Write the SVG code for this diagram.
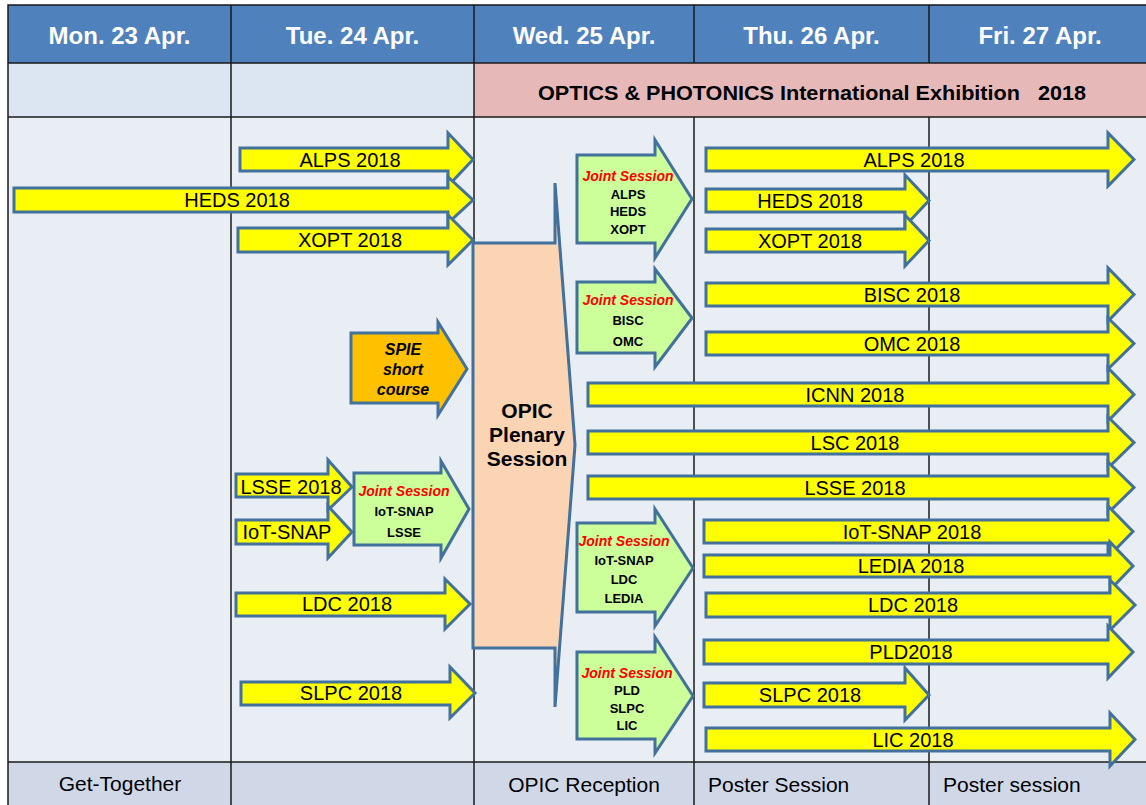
<svg xmlns="http://www.w3.org/2000/svg" width="1146" height="805" viewBox="0 0 1146 805">
<style>
.hdr{fill:#4F81BD}
.hdrt{font-family:"Liberation Sans",Arial,sans-serif;font-weight:bold;font-size:24px;fill:#FFFFFF;text-anchor:middle}
.grid{stroke:#1a1a1a;stroke-width:1.5;fill:none}
.ya{fill:#FFFF00;stroke:#41719C;stroke-width:3;stroke-linejoin:miter}
.ga{fill:#CCFF99;stroke:#41719C;stroke-width:3}
.oa{fill:#FFC000;stroke:#41719C;stroke-width:3}
.pl{fill:#FBD4B4;stroke:#41719C;stroke-width:3}
.t{font-family:"Liberation Sans",Arial,sans-serif;font-size:20px;fill:#000;text-anchor:middle}
.js{font-family:"Liberation Sans",Arial,sans-serif;font-size:14px;font-weight:bold;font-style:italic;fill:#FF0000;text-anchor:middle}
.jn{font-family:"Liberation Sans",Arial,sans-serif;font-size:13px;font-weight:bold;fill:#000;text-anchor:middle}
.bt{font-family:"Liberation Sans",Arial,sans-serif;font-size:21px;fill:#000}
</style>
<rect x="0" y="0" width="1146" height="805" fill="#FFFFFF"/>
<g id="header">
<rect class="hdr" x="8" y="5" width="1138" height="58"/>
<text class="hdrt" x="119.5" y="44">Mon. 23 Apr.</text>
<text class="hdrt" x="352.5" y="44">Tue. 24 Apr.</text>
<text class="hdrt" x="584" y="44">Wed. 25 Apr.</text>
<text class="hdrt" x="811.5" y="44">Thu. 26 Apr.</text>
<text class="hdrt" x="1040" y="44">Fri. 27 Apr.</text>
</g>
<g id="row2">
<rect x="8" y="63" width="466" height="54" fill="#DCE6F2"/>
<rect x="474" y="63" width="672" height="54" fill="#E6B9B8"/>
<text x="812" y="100" font-family="Liberation Sans, Arial, sans-serif" font-weight="bold" font-size="20" text-anchor="middle" textLength="548" lengthAdjust="spacingAndGlyphs">OPTICS &amp; PHOTONICS International Exhibition&#160;&#160;&#160;2018</text>
</g>
<g id="body">
<rect x="8" y="117" width="1138" height="645" fill="#E9EDF4"/>
<rect x="8" y="762" width="1138" height="43" fill="#D0D8E8"/>
</g>
<g id="gridlines">
<rect class="grid" x="8" y="5" width="1140" height="810" stroke="#888"/>
<line class="grid" x1="8" y1="63" x2="1146" y2="63"/>
<line class="grid" x1="8" y1="117" x2="1146" y2="117"/>
<line class="grid" x1="8" y1="762" x2="1146" y2="762"/>
<line class="grid" x1="231" y1="5" x2="231" y2="805"/>
<line class="grid" x1="474" y1="5" x2="474" y2="805"/>
<line class="grid" x1="694" y1="5" x2="694" y2="63"/>
<line class="grid" x1="694" y1="117" x2="694" y2="805"/>
<line class="grid" x1="929" y1="5" x2="929" y2="63"/>
<line class="grid" x1="929" y1="117" x2="929" y2="805"/>
</g>
<g id="bottom-labels">
<text class="bt" x="120" y="791" text-anchor="middle">Get-Together</text>
<text class="bt" x="584" y="792" text-anchor="middle">OPIC Reception</text>
<text class="bt" x="708" y="792">Poster Session</text>
<text class="bt" x="943" y="792">Poster session</text>
</g>
<g id="connectors"></g>
<g id="tue-alps"><path class="ya" d="M240,148 H448 V133 L473,159.5 L448,186 V171 H240 Z"/><text class="t" x="350" y="166.5">ALPS 2018</text></g>
<g id="heds"><path class="ya" d="M14,188 H448 V177 L473,200 L448,223 V212 H14 Z"/><text class="t" x="237" y="207">HEDS 2018</text></g>
<g id="tue-xopt"><path class="ya" d="M238,228 H448 V215 L473,240 L448,265 V252 H238 Z"/><text class="t" x="350" y="247">XOPT 2018</text></g>
<g id="spie"><path class="oa" d="M351,333 H438 V322 L467,369 L438,415 V403 H351 Z"/>
<text font-family="Liberation Sans, Arial, sans-serif" font-size="16" font-weight="bold" font-style="italic" text-anchor="middle"><tspan x="403" y="355">SPIE</tspan><tspan x="403" y="375">short</tspan><tspan x="403" y="395">course</tspan></text></g>
<g id="tue-lsse"><path class="ya" d="M236,474 H328 V460 L352,487 L328,510 V497 H236 Z"/><text class="t" x="291" y="494">LSSE 2018</text></g>
<g id="tue-iot"><path class="ya" d="M236,520 H328 V506 L352,532 L328,558 V544 H236 Z"/><text class="t" x="287" y="539">IoT-SNAP</text></g>
<g id="js-tue"><path class="ga" d="M354,473 H441 V461 L469,509 L441,558 V545 H354 Z"/>
<text class="js" x="404" y="496">Joint Session</text><text class="jn" x="404" y="516">IoT-SNAP</text><text class="jn" x="404" y="537">LSSE</text></g>
<g id="tue-ldc"><path class="ya" d="M236,593 H445 V579 L470,604 L445,629 V616 H236 Z"/><text class="t" x="347" y="611">LDC 2018</text></g>
<g id="tue-slpc"><path class="ya" d="M241,682 H450 V667 L475,693 L450,718 V705 H241 Z"/><text class="t" x="351" y="700">SLPC 2018</text></g>
<g id="plenary"><path class="pl" d="M473,243 H555 V183 L575,445 L555,707 V648 H473 Z"/>
<text font-family="Liberation Sans, Arial, sans-serif" font-size="21" font-weight="bold" text-anchor="middle"><tspan x="527" y="418">OPIC</tspan><tspan x="527" y="442">Plenary</tspan><tspan x="527" y="466">Session</tspan></text></g>
<g id="js1"><path class="ga" d="M577,155 H655 V140 L692,199 L655,258 V243 H577 Z"/>
<text class="js" x="628" y="181">Joint Session</text><text class="jn" x="628" y="199">ALPS</text><text class="jn" x="628" y="216">HEDS</text><text class="jn" x="628" y="234">XOPT</text></g>
<g id="js2"><path class="ga" d="M577,282 H655 V269 L692,318 L655,367 V353 H577 Z"/>
<text class="js" x="628" y="305">Joint Session</text><text class="jn" x="628" y="325">BISC</text><text class="jn" x="628" y="346">OMC</text></g>
<g id="js3"><path class="ga" d="M577,523 H655 V509 L693,568 L655,626 V612 H577 Z"/>
<text class="js" x="624" y="546">Joint Session</text><text class="jn" x="624" y="565">IoT-SNAP</text><text class="jn" x="624" y="584">LDC</text><text class="jn" x="624" y="603">LEDIA</text></g>
<g id="js4"><path class="ga" d="M577,652 H655 V637 L693,696 L655,753 V739 H577 Z"/>
<text class="js" x="627" y="678">Joint Session</text><text class="jn" x="627" y="695">PLD</text><text class="jn" x="627" y="713">SLPC</text><text class="jn" x="627" y="730">LIC</text></g>
<g id="alps"><path class="ya" d="M706,148 H1108 V133 L1134,159.5 L1108,186 V171 H706 Z"/><text class="t" x="914" y="166.5">ALPS 2018</text></g>
<g id="heds2"><path class="ya" d="M706,189 H905 V175 L929,200.5 L905,226 V212 H706 Z"/><text class="t" x="810" y="207.5">HEDS 2018</text></g>
<g id="xopt"><path class="ya" d="M706,229 H905 V215 L929,240.5 L905,266 V252 H706 Z"/><text class="t" x="810" y="247.5">XOPT 2018</text></g>
<g id="bisc"><path class="ya" d="M706,283 H1108 V268 L1134,294.5 L1108,321 V306 H706 Z"/><text class="t" x="912" y="301.5">BISC 2018</text></g>
<g id="omc"><path class="ya" d="M706,332 H1108 V318 L1134,343.5 L1108,369 V355 H706 Z"/><text class="t" x="912" y="350.5">OMC 2018</text></g>
<g id="icnn"><path class="ya" d="M588,383 H1108 V368 L1134,394.5 L1108,421 V406 H588 Z"/><text class="t" x="855" y="401.5">ICNN 2018</text></g>
<g id="lsc"><path class="ya" d="M588,431 H1108 V417 L1134,442.5 L1108,468 V454 H588 Z"/><text class="t" x="855" y="449.5">LSC 2018</text></g>
<g id="lsse"><path class="ya" d="M588,476 H1108 V462 L1134,487.5 L1108,513 V499 H588 Z"/><text class="t" x="855" y="494.5">LSSE 2018</text></g>
<g id="iot"><path class="ya" d="M704,520 H1108 V506 L1133,531.5 L1108,557 V543 H704 Z"/><text class="t" x="912" y="538.5">IoT-SNAP 2018</text></g>
<g id="ledia"><path class="ya" d="M704,555 H1110 V542 L1133,566 L1110,590 V577 H704 Z"/><text class="t" x="911" y="573">LEDIA 2018</text></g>
<g id="ldc"><path class="ya" d="M706,593 H1110 V580 L1135,605 L1110,630 V617 H706 Z"/><text class="t" x="913" y="612">LDC 2018</text></g>
<g id="pld"><path class="ya" d="M704,640 H1108 V626 L1133,652 L1108,678 V664 H704 Z"/><text class="t" x="911" y="659">PLD2018</text></g>
<g id="slpc"><path class="ya" d="M704,683 H905 V668 L929,695 L905,720 V707 H704 Z"/><text class="t" x="810" y="702">SLPC 2018</text></g>
<g id="lic"><path class="ya" d="M706,728 H1110 V713 L1135,739.5 L1110,766 V751 H706 Z"/><text class="t" x="913" y="746.5">LIC 2018</text></g>
</svg>
